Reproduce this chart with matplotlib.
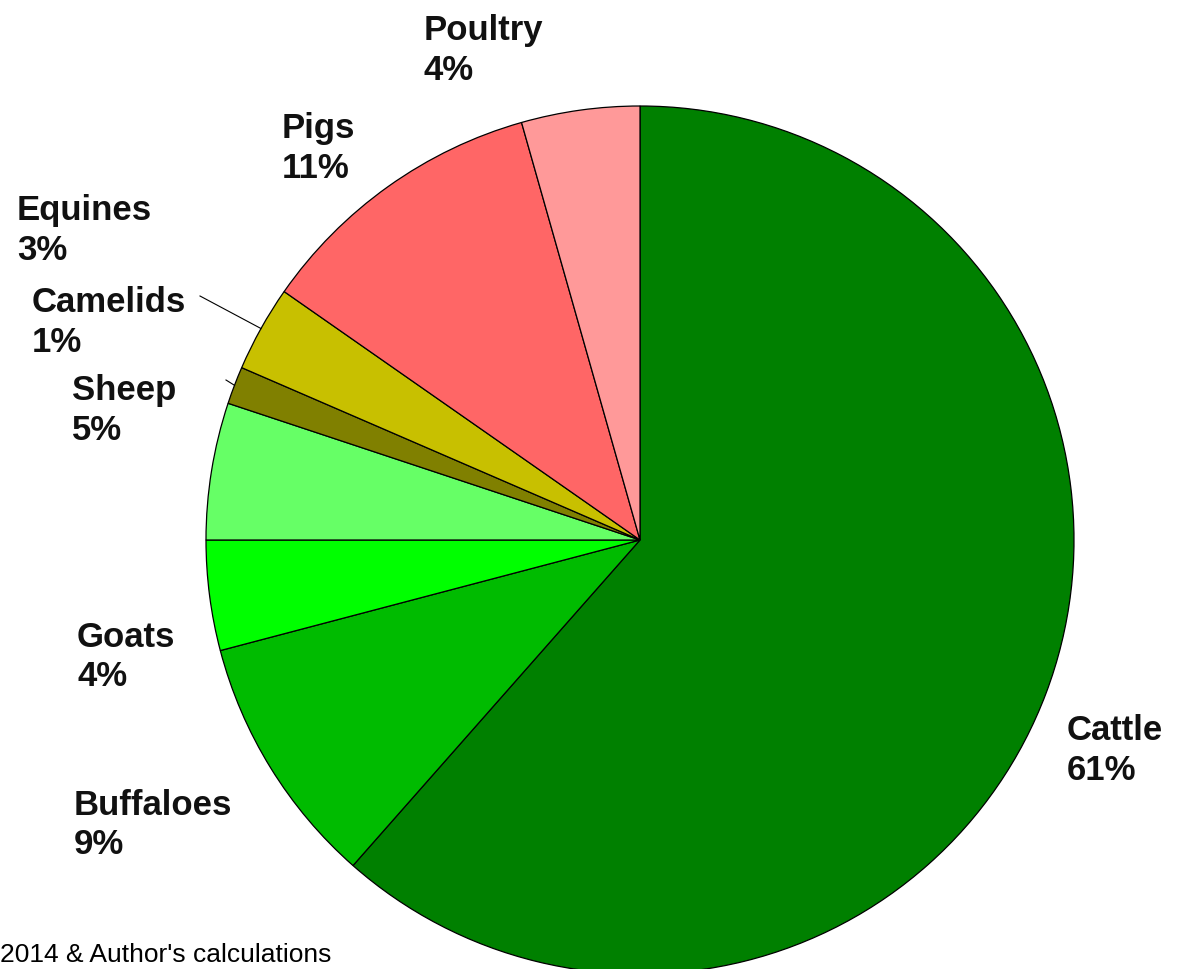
import matplotlib
matplotlib.use("Agg")
import matplotlib.pyplot as plt
import numpy as np

# 数据 (从图中读取的估计值, %)
categories = ["Cattle", "Buffaloes", "Goats", "Sheep", "Camelids", "Equines", "Pigs", "Poultry"]
shares = [61.5, 9.4, 4.1, 5.1, 1.4, 3.2, 10.9, 4.4]
pct_labels = ["61%", "9%", "4%", "5%", "1%", "3%", "11%", "4%"]
colors = ["#008000", "#00BB00", "#00FF00", "#66FF66", "#808000", "#C8C000", "#FF6666", "#FF9999"]

# 标签位置 (像素, 左上角)
label_pos = {
    "Cattle": (1067, 714),
    "Buffaloes": (74, 789),
    "Goats": (77, 621),
    "Sheep": (72, 374),
    "Camelids": (32, 286),
    "Equines": (17, 194),
    "Pigs": (282, 112),
    "Poultry": (424, 14),
}
# 引导线起点 (像素)
leader_start = {"Equines": (200, 296), "Camelids": (226, 380)}

W, H = 1178, 969
cx, cy, R = 640, 540, 434

fig = plt.figure(figsize=(W / 100, H / 100), dpi=100)
ax = fig.add_axes([0, 0, 1, 1])

wedges, _ = ax.pie(shares, colors=colors, startangle=90, counterclock=False,
                   radius=R, center=(cx, H - cy),
                   wedgeprops=dict(edgecolor="black", linewidth=0.9))

ax.set_xlim(0, W)
ax.set_ylim(0, H)
ax.set_aspect("equal")
ax.axis("off")

font = ["Liberation Sans", "DejaVu Sans"]
for name, pct in zip(categories, pct_labels):
    x, y = label_pos[name]
    ax.text(x, H - y, f"{name}\n{pct}", ha="left", va="top", fontsize=25,
            fontweight="bold", family=font, linespacing=1.25, color="#111111")

# 引导线: 指向扇区中点的弧上
for name, w in zip(categories, wedges):
    if name in leader_start:
        mid = np.deg2rad((w.theta1 + w.theta2) / 2)
        px = cx + R * np.cos(mid)
        py = (H - cy) + R * np.sin(mid)
        sx, sy = leader_start[name]
        ax.plot([sx, px], [H - sy, py], color="black", linewidth=0.8)

ax.text(0, 2, "2014 & Author's calculations", ha="left", va="bottom",
        fontsize=19, family=font, color="black")

fig.savefig("out.png", dpi=100, facecolor="white")
